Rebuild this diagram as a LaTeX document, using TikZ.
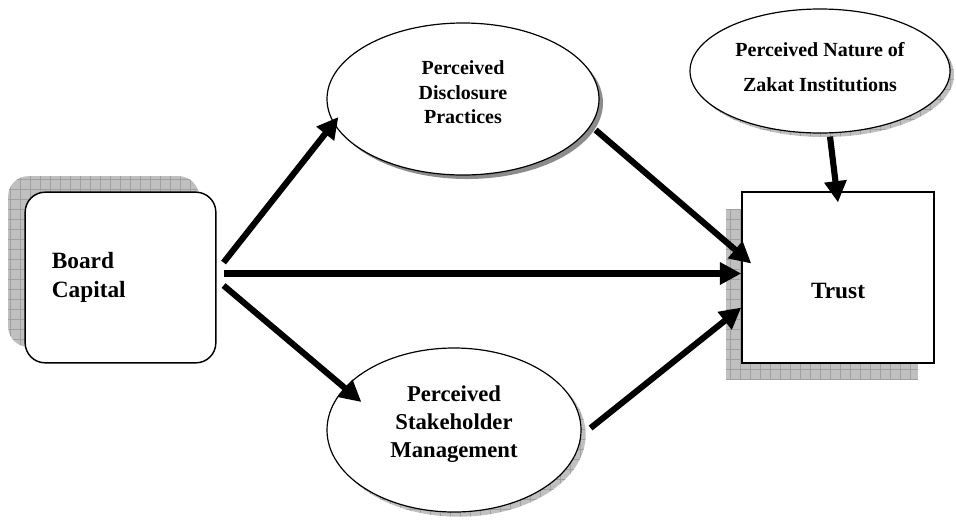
\documentclass[tikz,border=0pt]{standalone}
\usepackage{fontspec}
\setmainfont{Liberation Serif}
\usepackage{tikz}
\usetikzlibrary{arrows.meta,positioning,calc,shapes.geometric,shadows,patterns.meta}
\tikzset{
  >=Stealth,
  every picture/.append style={line width=0.8pt},
}
\tikzset{
  gridshade/.style={fill=shadowgray, postaction={pattern={Hatch[angle=0,distance=7.5pt,line width=0.45pt]}, pattern color=gridgray}},
  bigfont/.style={font=\fontsize{17.5pt}{22pt}\selectfont\bfseries},
  smallfont/.style={font=\fontsize{15pt}{18.4pt}\selectfont\bfseries}
}
\newcommand{\lift}[1]{\rule[-#1]{0pt}{0pt}}

\begin{document}
\begin{tikzpicture}[
  x=0.75pt, y=-0.75pt,
  roundbox/.style={rectangle, rounded corners=15pt, draw, line width=1.1pt, fill=white, minimum width=143pt, minimum height=128pt},
  squarebox/.style={rectangle, draw, line width=1.1pt, fill=white, minimum width=144pt, minimum height=128pt},
  oval/.style={ellipse, draw, line width=0.9pt, fill=white, inner sep=0pt, align=center},
  arrow/.style={-{Triangle[length=16pt,width=16pt]}, line width=4.6pt}
]

% --- Palette ---
\definecolor{shadowgray}{RGB}{192,192,192}
\definecolor{gridgray}{RGB}{160,160,160}
\definecolor{ovalgray}{RGB}{140,140,140}

\useasboundingbox (0,0) rectangle (956,519);

% --- Boxes ---
\node[roundbox, bigfont, align=left, text width=103pt, inner xsep=20pt,
      general shadow={shadow xshift=-12.75pt, shadow yshift=12pt, gridshade}] (board) at (120.5,277.5) {%
  Board\\Capital
};
\node[squarebox, bigfont, text height=30.8pt, text depth=0pt,
      general shadow={shadow xshift=-12pt, shadow yshift=-12.75pt, gridshade}] (trust) at (838,277.5) {Trust};

% --- Mediators and moderator ---
\node[oval, smallfont, minimum width=204pt, minimum height=114pt,
      general shadow={shadow xshift=3pt, shadow yshift=-3pt, fill=ovalgray}] (disc) at (463,99) {%
  Perceived\\Disclosure\\Practices\lift{10pt}
};
\node[oval, font=\fontsize{17pt}{21pt}\selectfont\bfseries, minimum width=190.5pt, minimum height=123pt,
      general shadow={shadow xshift=3.5pt, shadow yshift=-3.5pt, gridshade}] (stake) at (454,430) {%
  Perceived\\Stakeholder\\Management\lift{12.5pt}
};
\node[oval, font=\fontsize{15pt}{26pt}\selectfont\bfseries, minimum width=195pt, minimum height=93pt,
      general shadow={shadow xshift=3pt, shadow yshift=-3pt, gridshade}] (zakat) at (820,71) {%
  Perceived Nature of\\Zakat Institutions\lift{6pt}
};

% --- Paths ---
\draw[arrow] ($(board.east)+(7,-15)$) -- ($(disc.west)+(12,18)$);
\draw[arrow] ($(board.east)+(7,-4)$) -- ($(trust.west)+(0,-4)$);
\draw[arrow] ($(board.east)+(7,8)$) -- ($(stake.west)+(35,-28)$);
\draw[arrow] ($(disc.east)+(-4,31)$) -- ($(trust.west)+(10,-14)$);
\draw[arrow] ($(stake.east)+(9,-2)$) -- ($(trust.west)+(0,30)$);
\draw[arrow] ($(zakat.south)+(10,3)$) -- ($(trust.north)+(0,11)$);

\end{tikzpicture}
\end{document}
